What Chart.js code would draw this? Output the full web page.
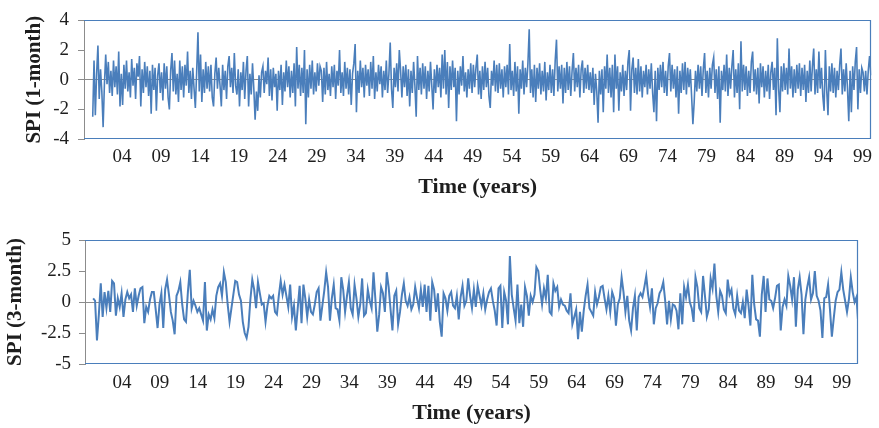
<!DOCTYPE html>
<html>
<head>
<meta charset="utf-8">
<script src="https://cdn.jsdelivr.net/npm/chart.js@4.4.1/dist/chart.umd.min.js"></script>
<style>
  html, body { margin: 0; padding: 0; background: #fff; }
  .panel { position: absolute; left: 0; width: 879px; }
  #panel-1 { top: 0; height: 205px; }
  #panel-3 { top: 215px; height: 213px; }
</style>
</head>
<body>
<div class="panel" id="panel-1"><canvas id="spi1-chart"></canvas></div>
<div class="panel" id="panel-3"><canvas id="spi3-chart"></canvas></div>
<script>
// x axis ticks (years) and their labels
const tickYears = [1904, 1909, 1914, 1919, 1924, 1929, 1934, 1939, 1944, 1949, 1954, 1959, 1964, 1969, 1974, 1979, 1984, 1989, 1994, 1999]
const tickLabels = ['04', '09', '14', '19', '24', '29', '34', '39', '44', '49', '54', '59', '64', '69', '74', '79', '84', '89', '94', '99']

// SPI 1-month, read every two months from 1900.25
const spi1Start = 1900.25
const spi1Step = 1 / 6
const spi1 = [
  -2.5, 1.3, -2.4, 0.4, 2.3, -1.3, 0.7, -0.8, -3.2, -0.3, 1.7, -0.3, 1.2, -0.9, 0.6, -1.1, 1.3, -0.5,
  0.9, -1.0, 1.9, -1.8, 0.4, -1.7, 1.0, -0.6, 1.3, -0.8, 0.5, -1.2, 1.4, -0.4, 0.8, -1.3, 1.1, 0.2,
  1.6, -1.8, 0.7, -0.9, 1.2, -0.5, 0.9, -1.1, 0.6, -2.3, 1.0, -0.7, 0.8, -2.1, 0.3, 1.1, -0.9, 0.5,
  -1.4, 1.1, -0.6, 0.9, -1.2, -2.0,
  0.6, 1.8, -0.8, 1.3, -1.0, 0.4, -1.5, 1.3, -0.7, 0.9, -1.2, 1.0, -0.4, 1.9, -0.9, 0.6, -1.3, 0.8,
  -0.6, -1.9, 0.5, 3.2, -0.8, 1.7, -1.5, 0.7, -0.9, 1.2, -0.6, 0.9, -0.8, 1.0, -1.2, -1.8, 0.4, 1.5,
  -0.6, 0.8, -0.4, -1.8, 1.0, -0.7, 0.6, -1.3, 0.9, 1.6, -0.5, 0.8, -0.9, 1.8, -0.4, -1.0, 0.7, -1.8,
  0.5, -0.7, 1.2, -1.3, 0.6, 1.6,
  -1.8, 0.4, -1.0, 1.1, -0.6, -2.7, -0.8, -2.1, 0.3, -1.2, 0.5, 0.9, -0.9, 0.6, -0.3, 1.5, -1.1, 0.7,
  -1.4, 0.8, -0.5, 0.4, -2.1, 0.6, -0.7, 1.0, -1.7, 0.5, -0.8, 1.3, -0.5, 0.9, -1.2, 0.6, -0.9, 1.1,
  -1.8, 2.2, -0.6, 1.0, -1.1, 0.8, -0.9, 2.0, -3.0, 0.7, -1.2, 1.0, -0.6, 1.3, -1.0, 0.5, -0.8, 1.1,
  -0.4, 0.9, 0.6, -1.5, 0.8, -1.0,
  1.2, -0.7, 0.4, -1.1, 0.9, -0.5, 1.0, -1.3, 0.6, -0.4, 2.0, -0.9, 0.5, -1.1, 1.2, -0.6, 0.8, -1.0,
  0.7, -1.7, 0.4, 1.1, 2.4, -2.2, 0.6, -0.9, 1.3, -0.5, 0.8, -1.2, 1.0, -0.4, 0.7, -1.1, 1.2, -0.6,
  1.6, -1.3, 0.5, -0.8, 1.0, -0.3, 0.9, -1.2, 0.6, -0.7, 1.3, -0.9, 0.4, 2.5, -0.6, -1.9, 0.8, -0.5,
  1.1, -0.8, 2.0, 0.6, -1.2, 0.9,
  -0.5, 1.0, -1.1, 0.7, -1.8, 0.6, -0.9, 1.2, -0.4, -2.5, 1.6, -0.7, 0.8, -1.0, 1.1, -0.6, 0.9, -1.3,
  0.6, -0.8, 1.2, -0.4, -2.0, 0.7, -0.9, 1.0, -0.5, 0.8, -1.2, 1.7, -0.6, 2.0, -1.0, 1.2, -1.9, 0.9,
  -0.7, 1.3, -0.5, 0.8, -2.8, 0.6, -1.0, 0.9, -0.4, 1.6, -0.8, 0.5, -1.2, 0.7, -0.6, 1.1, -0.9, 1.0,
  -0.5, 0.8, 1.7, -1.0, 0.6, -1.3,
  0.9, -0.7, 1.2, -0.5, 0.8, -1.1, -1.9, 0.6, -0.4, 1.3, -0.8, 1.0, -0.9, 1.1, -0.6, 0.7, -1.2, 0.9,
  -0.5, 1.0, -1.0, 2.4, -0.7, 0.6, -1.1, 1.2, -0.8, 0.9, -2.3, 0.7, -0.6, 1.3, -1.0, 0.8, -0.5, 1.1,
  3.4, -0.9, 0.7, -1.2, 1.0, -1.5, 0.8, -0.6, 1.1, -1.0, 0.6, -0.8, 1.2, -1.4, 0.5, -0.7, 1.0, -0.9,
  0.7, -1.1, 1.3, 2.7, -0.8, 0.9,
  -0.6, 1.0, -1.6, 0.8, -0.9, 1.2, -0.7, 0.9, -1.1, 0.6, 1.8, -0.8, 0.8, -0.5, 1.0, -1.2, 0.7, 1.3,
  -0.9, 0.8, -0.6, 1.0, -0.7, 0.5, -0.9, 0.8, -1.7, 0.4, -0.8, -2.9, 0.6, -1.0, 0.7, -2.2, 0.9, -0.6,
  1.7, -0.9, 0.8, -1.2, 1.0, -2.2, 1.7, -0.6, 0.9, -2.1, 0.5, -0.8, 1.0, -1.1, 0.6, -0.7, 1.2, 2.0,
  -2.1, 0.7, 1.5, -0.9, 0.8, -1.0,
  1.4, -0.8, 0.9, -1.2, 0.6, -0.5, 1.0, -1.0, 0.7, -0.6, 1.1, -0.9, -2.2, 0.6, -2.8, 0.8, -0.7, 1.0,
  -0.5, 1.2, -0.9, 0.6, -1.1, 0.9, 1.8, -0.8, 1.0, -0.6, 0.7, -1.2, 0.9, -2.3, 0.6, -0.9, 1.1, -0.7,
  1.2, -1.0, 0.8, -0.5, 0.7, -1.1, -3.0, -1.5, 0.6, -0.8, 1.0, -0.6, 0.9, -1.1, 0.7, 1.8, -0.9, 0.6,
  -1.2, 0.8, -0.6, 1.0, 1.5, -0.9,
  0.7, -1.3, 0.9, -2.9, 0.6, -0.7, 1.0, -0.8, 1.7, -1.1, 0.8, -0.6, 0.9, 2.0, -1.2, 0.7, -0.9, 1.1,
  -2.0, 2.6, -0.8, 1.0, -0.7, 0.9, -1.1, 0.6, -0.9, 1.2, 1.9, -0.8, 0.7, -1.0, 0.8, -1.6, 1.1, -0.5,
  0.9, -1.2, 0.6, -0.8, 1.0, -1.3, 0.5, 1.2, -0.7, 0.8, -2.4, 2.8, -0.6, -2.2, 0.9, -0.8, 1.1, -0.7,
  0.8, -1.0, 2.1, -0.6, 0.9, -1.2,
  0.7, -0.9, 1.0, -0.6, 1.1, -1.1, 0.8, -0.7, 1.0, -1.5, 0.6, -0.9, 1.3, -0.8, 0.9, 2.1, -1.0, 0.7,
  -0.9, 1.9, -0.6, 0.8, -1.1, -2.1, 2.0, -0.7, -2.4, 0.9, -0.8, 1.1, -0.9, 0.8, -1.2, 0.6, -0.7, 1.0,
  2.1, -1.0, 0.7, -0.8, 1.1, -0.6, -2.8, 0.6, -2.2, 0.9, -0.7, 1.2, 2.2, -2.0, 0.7, -0.9, 0.8, 0.5,
  -0.8, 0.6, -1.0, 0.6, 1.6, 0.3
]

// SPI 3-month, read every quarter from 1900.2
const spi3Start = 1900.2
const spi3Step = 0.25
const spi3 = [
  0.3, 0.1, -3.1, -1.0, 1.5, -1.2, 0.8, -0.5, 0.9, -0.8, 1.7, 1.5, -1.1, 0.3, -0.4, 0.7, -1.2, 0.2, 0.8, 0.3,
  0.6, -0.8, 1.1, -0.3, 0.5, 1.1, 1.2, -1.7, -0.4, -0.8, 0.2, 0.8, 0.8, -0.6, -2.1, -0.2, 0.7, -2.1, 1.0, 1.8,
  0.6, -0.8, -1.5, -2.6, 0.5, 0.9, 1.6, -0.2, -1.4, -1.6, 0.8, 2.6, -0.5, 0.1, -0.3, -0.8, -0.5, -1.0, -1.5, 1.6,
  -2.3, -1.0, -1.4, -0.6, -1.3, 0.5, 1.2, 1.5, 0.5, 2.4, 1.6, -0.2, -1.6, -0.5, 0.6, 1.7, 1.6, 0.6, 0.1, -1.6,
  -2.5, -2.9, -2.0, 0.2, 1.8, 1.0, -0.5, 1.6, 0.7, -0.2, -0.1, -1.6, -0.3, 0.5, 0.3, 0.5, -0.8, -1.0, 0.5, 1.7,
  0.6, 1.4, 0.5, -0.4, 1.4, -1.2, -0.3, -2.3, -0.5, 1.3, -1.7, 1.4, 0.3, -1.2, 0.2, -0.8, -1.0, -0.2, 0.8, 1.1,
  -1.5, -0.3, 0.9, 2.4, 1.2, -1.5, 0.3, 1.4, -0.5, -0.6, -1.5, 2.0, 1.0, -0.8, 0.5, 1.6, -0.5, -1.0, 1.4, 0.3,
  -1.2, -0.2, 1.9, -1.1, -0.9, 1.0, 0.1, -0.5, 2.4, 0.2, -2.4, -1.0, 1.2, 0.7, -0.8, 2.4, 1.2, -0.6, -2.3, 0.5,
  0.9, -1.8, -0.8, 0.6, 1.5, 0.1, -0.3, 0.4, -0.6, -0.2, 1.2, 0.3, -0.5, 1.0, -0.4, 1.4, -0.8, 1.3, -1.5, 1.6,
  1.0, -0.8, 0.7, -1.6, -2.8, 0.7, 0.3, -0.7, 0.5, 0.8, -0.3, -0.5, 0.5, -1.4, 0.4, 1.3, -0.3, 0.1, 1.9, 0.5,
  -0.5, 1.0, -0.4, 1.3, 0.5, -0.3, 0.7, -0.6, 0.2, 0.8, 1.1, 0.1, -0.7, -1.9, 1.1, 1.3, -2.1, 0.8, 0.1, -1.8,
  3.7, 0.6, -0.5, -1.5, 1.4, -1.7, -0.2, -2.0, 1.2, 0.5, -1.1, 0.5, 0.0, 0.6, 2.8, 2.5, 1.0, -0.2, 1.1, 0.3,
  2.2, -0.8, -1.0, 1.5, 0.9, 1.2, -0.4, 0.2, -0.2, -0.3, -0.7, -0.9, 0.7, -1.8, -1.2, -0.6, -3.0, -0.8, -2.4, -0.7,
  0.5, 1.4, -0.5, -0.8, -1.1, 0.8, -0.2, 0.4, 1.2, 1.3, 0.3, -0.6, 0.5, -0.8, 0.8, 0.3, -1.9, -0.2, 0.3, 2.0,
  0.8, -0.8, 0.5, -1.5, -2.3, -0.5, 0.5, -2.3, 0.4, 0.7, 0.4, 1.2, 2.1, 0.6, -0.4, 1.1, -1.8, -0.5, -0.1, 0.7,
  1.0, 1.6, 0.1, -1.8, 0.1, -1.4, -0.2, -0.3, -0.7, -2.2, 0.7, -1.8, 1.2, 0.4, 1.4, 0.0, -0.5, -1.6, 2.0, 1.2,
  -0.5, -0.8, 2.1, 0.5, -1.2, -0.6, 1.9, 1.1, 3.1, 0.5, -0.8, 0.9, 0.5, -0.6, -0.9, 1.8, 0.6, 1.0, -0.5, -1.0,
  0.5, -0.7, -0.9, 0.0, -1.3, 1.0, -0.3, -1.9, 2.2, -0.2, -1.4, -1.5, -2.8, 0.6, 2.1, -0.8, 1.9, 0.2, 0.1, -0.5,
  0.3, 1.3, 1.4, -2.3, -0.4, 0.2, -0.3, 2.1, 1.3, 0.2, 2.0, -2.0, 1.0, 2.0, 0.6, -2.6, 0.2, 1.2, 2.0, 0.2,
  0.7, 2.5, 0.5, 0.1, -0.7, -2.9, 0.3, 0.4, 1.4, -0.6, -2.8, -1.3, 0.1, 0.8, 1.0, 2.4, 1.0, 0.1, -0.8, 0.2,
  2.0, 0.8, 0.0, 0.4, -1.9
]

const spi1Ticks = [4, 2, 0, -2, -4]
const spi3Ticks = [5, 2.5, 0, -2.5, -5]

const lineColor = '#4a7ebb'
const axisGray = '#8c8c8c'
const textColor = '#1e1e1e'
const serif = 'Liberation Serif, Times New Roman, serif'

// blue frame on top, right and bottom of the plot area
const plotFrame = {
  id: 'plotFrame',
  beforeDatasetsDraw(chart) {
    const { ctx, chartArea: a } = chart
    const t = Math.round(a.top) + 0.5
    const b = Math.round(a.bottom) - 0.5
    const l = Math.round(a.left)
    const r = Math.round(a.right) - 0.5
    ctx.save()
    ctx.strokeStyle = lineColor
    ctx.lineWidth = 1.2
    ctx.beginPath()
    ctx.moveTo(l, t)
    ctx.lineTo(r, t)
    ctx.lineTo(r, b)
    ctx.lineTo(l, b)
    ctx.stroke()
    ctx.restore()
  }
}

function spiChart(canvasId, values, start, step, cfg) {
  const points = values.map((v, i) => ({ x: start + i * step, y: v }))

  return new Chart(document.getElementById(canvasId), {
    type: 'line',
    data: {
      datasets: [{
        data: points,
        borderColor: lineColor,
        borderWidth: cfg.lineWidth,
        pointRadius: 0,
        tension: 0,
        fill: false
      }]
    },
    options: {
      responsive: true,
      maintainAspectRatio: false,
      animation: false,
      events: [],
      layout: { padding: { top: cfg.padTop, right: cfg.padRight, left: 0, bottom: 0 } },
      plugins: { legend: { display: false }, tooltip: { enabled: false } },
      scales: {
        x: {
          type: 'linear',
          min: cfg.xMin,
          max: cfg.xMax,
          afterBuildTicks: (scale) => { scale.ticks = tickYears.map(v => ({ value: v })) },
          afterFit: (scale) => { scale.height = cfg.xHeight },
          ticks: {
            autoSkip: false,
            maxRotation: 0,
            padding: cfg.xTickPad,
            color: textColor,
            font: { family: serif, size: 19 },
            callback: (v, i) => tickLabels[i]
          },
          grid: { display: false, drawTicks: false },
          border: { display: false },
          title: {
            display: true,
            text: 'Time (years)',
            color: textColor,
            font: { family: serif, size: 22, weight: 'bold' },
            padding: { top: 0, bottom: cfg.xTitlePad }
          }
        },
        y: {
          min: cfg.yTicks[cfg.yTicks.length - 1],
          max: cfg.yTicks[0],
          afterBuildTicks: (scale) => { scale.ticks = cfg.yTicks.slice().reverse().map(v => ({ value: v })) },
          afterFit: (scale) => { scale.width = cfg.yWidth },
          ticks: {
            padding: cfg.yTickPad,
            color: textColor,
            font: { family: serif, size: 19 },
            callback: (v) => String(v)
          },
          grid: {
            color: (ctx) => (ctx.tick && ctx.tick.value === 0 ? axisGray : 'rgba(0,0,0,0)'),
            tickColor: axisGray,
            tickLength: 6,
            lineWidth: 1
          },
          border: { color: axisGray, width: 1 },
          title: {
            display: true,
            text: cfg.yTitle,
            color: textColor,
            font: { family: serif, size: 21, weight: 'bold' },
            padding: { top: cfg.yTitlePad, bottom: 0 }
          }
        }
      }
    },
    plugins: [plotFrame]
  })
}

spiChart('spi1-chart', spi1, spi1Start, spi1Step, {
  yTitle: 'SPI (1-month)',
  yTicks: spi1Ticks,
  xMin: 1899.13,
  xMax: 2000.15,
  lineWidth: 1.6,
  padTop: 15,
  padRight: 7,
  xHeight: 66,
  yWidth: 84,
  xTickPad: 7,
  xTitlePad: 4,
  yTickPad: 9,
  yTitlePad: 22
})

spiChart('spi3-chart', spi3, spi3Start, spi3Step, {
  yTitle: 'SPI (3-month)',
  yTicks: spi3Ticks,
  xMin: 1899.12,
  xMax: 2001.15,
  lineWidth: 2,
  padTop: 25,
  padRight: 21,
  xHeight: 64,
  yWidth: 85,
  xTickPad: 8,
  xTitlePad: 1,
  yTickPad: 8,
  yTitlePad: 3
})
</script>
</body>
</html>
